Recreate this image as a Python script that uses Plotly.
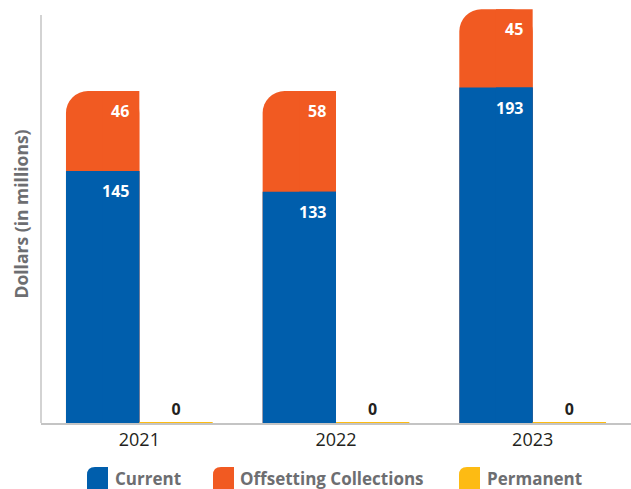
import plotly.graph_objects as go

years = ["2021", "2022", "2023"]
current = [145, 133, 193]
offsetting = [46, 58, 45]
permanent = [0, 0, 0]

BLUE = "#005eac"
ORANGE = "#f15a22"
YELLOW = "#fdbb13"
FONT = "Open Sans"

xs = list(range(len(years)))
totals = [c + o for c, o in zip(current, offsetting)]
W = 0.373
R = 22

fig = go.Figure()
fig.add_bar(x=xs, y=totals, width=W, offset=-W, marker=dict(color=ORANGE, cornerradius=R, line_width=0),
            name="Offsetting Collections", showlegend=False, hoverinfo="skip")
fig.add_bar(x=xs, y=totals, width=W / 2, offset=-W / 2, marker=dict(color=ORANGE, line_width=0),
            showlegend=False, hoverinfo="skip")
fig.add_bar(x=xs, y=current, width=W, offset=-W, marker=dict(color=BLUE, cornerradius=R, line_width=0),
            name="Current", showlegend=False, hoverinfo="skip")
fig.add_bar(x=xs, y=current, width=W / 2, offset=-W / 2, marker=dict(color=BLUE, line_width=0),
            showlegend=False, hoverinfo="skip")
fig.add_bar(x=xs, y=permanent, width=W, offset=0, marker=dict(color=YELLOW, line=dict(color=YELLOW, width=2)),
            text=[str(v) for v in permanent], textposition="outside", cliponaxis=False,
            textfont=dict(family=FONT, size=16, color="#231f20", weight="bold"),
            name="Permanent", showlegend=False, hoverinfo="skip")

for i in xs:
    for val, lab in ((current[i], current[i]), (totals[i], offsetting[i])):
        fig.add_annotation(x=i, y=val, xref="x", yref="y", text=f"<b>{lab}</b>", showarrow=False,
                           xanchor="right", yanchor="top", xshift=-8, yshift=-7,
                           font=dict(family=FONT, size=16, color="white"))

# custom legend
legend = [("Current", BLUE, 87, 113), ("Offsetting Collections", ORANGE, 213, 238), ("Permanent", YELLOW, 459, 485)]
L, T, PW, PH = 41, 5, 590, 418
for name, col, sx, tx in legend:
    fig.add_shape(type="path", xref="paper", yref="paper", xsizemode="pixel", ysizemode="pixel",
                  xanchor=(sx - L) / PW, yanchor=(423 - 467) / PH,
                  path="M 0,-24 L 0,-8 Q 0,0 8,0 L 21,0 L 21,-24 Z",
                  fillcolor=col, line_width=0)
    fig.add_annotation(x=(tx - L) / PW, y=(423 - 478) / PH, xref="paper", yref="paper",
                       text=f"<b>{name}</b>", showarrow=False, xanchor="left", yanchor="middle",
                       font=dict(family=FONT, size=17, color="#6d6e71"))

# vertical axis line
fig.add_shape(type="line", xref="paper", yref="paper", x0=0, x1=0, y0=0, y1=(423 - 15) / PH,
              line=dict(color="#c4c4c4", width=1.5))

fig.update_layout(
    width=631, height=489,
    margin=dict(l=L, r=0, t=T, b=489 - 423, autoexpand=False),
    barmode="overlay",
    plot_bgcolor="white", paper_bgcolor="white",
    showlegend=False,
    xaxis=dict(tickvals=xs, ticktext=years, range=[-0.5, 2.5], showgrid=False, zeroline=False,
               showline=True, linecolor="#c4c4c4", linewidth=1.5, ticks="", automargin=False,
               tickfont=dict(family=FONT, size=18, color="#231f20")),
    yaxis=dict(range=[0, PH / 1.738], showticklabels=False, showgrid=False, zeroline=False, ticks="",
               automargin=False,
               title=dict(text="<b>Dollars (in millions)</b>", standoff=6,
                          font=dict(family=FONT, size=17.5, color="#6d6e71"))),
)

fig.write_html("out.html", config={"displayModeBar": False},
               post_script="document.body.style.margin='0';document.body.style.overflow='hidden';")
